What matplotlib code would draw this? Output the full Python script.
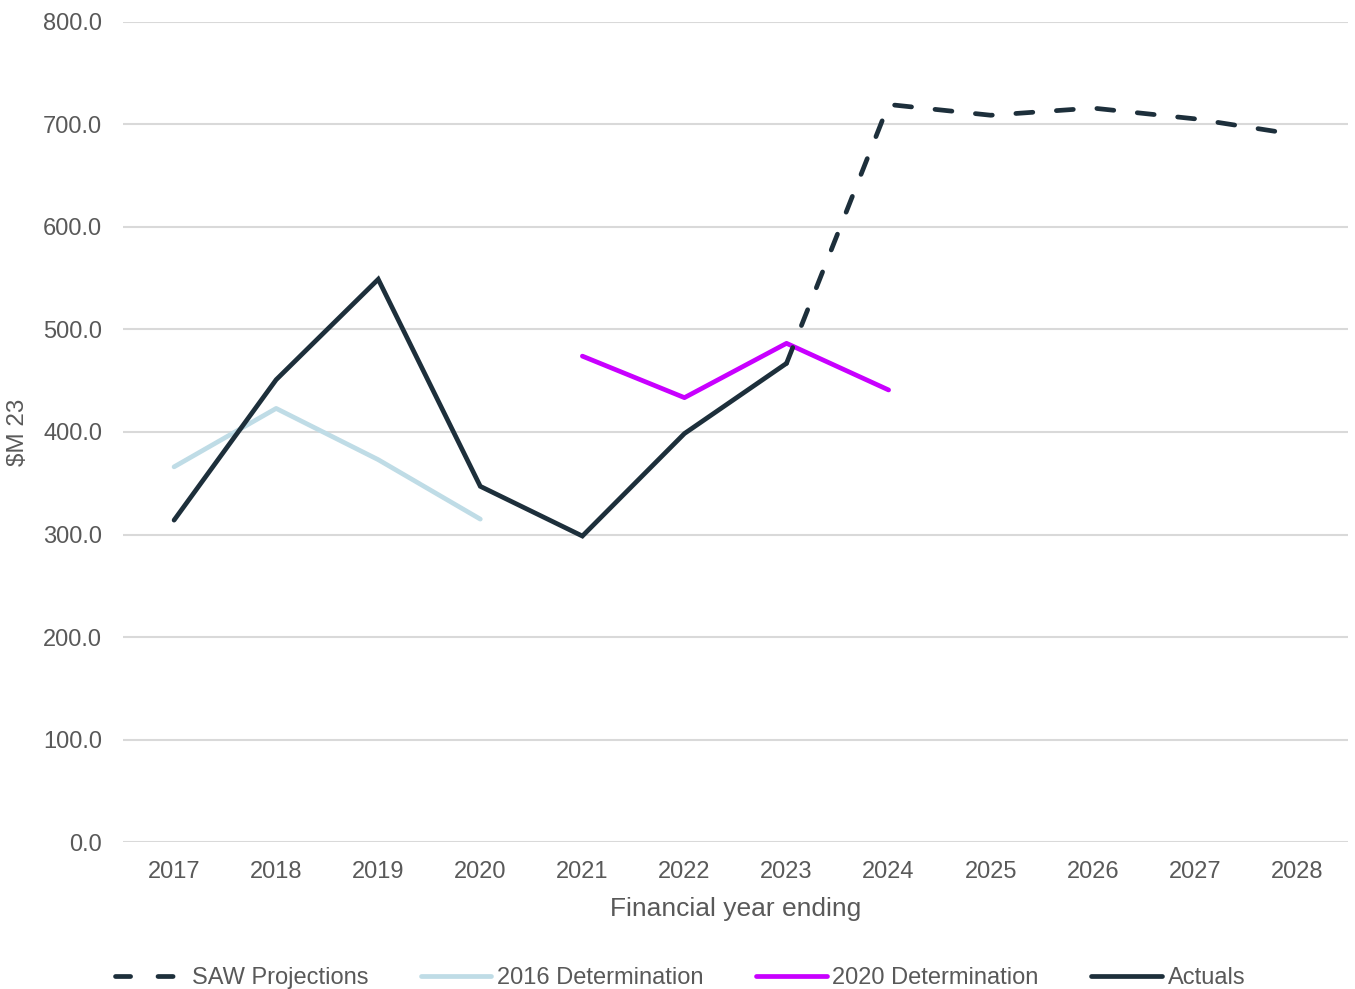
import matplotlib
matplotlib.use("Agg")
import matplotlib.pyplot as plt
from matplotlib.lines import Line2D

plt.rcParams['font.family'] = ['Liberation Sans', 'DejaVu Sans']

years = ["2017", "2018", "2019", "2020", "2021", "2022", "2023",
         "2024", "2025", "2026", "2027", "2028"]

# Series values ($M 23); None where a series has no value
actuals = [314, 451, 549, 347, 298.5, 398.5, 467, None, None, None, None, None]
saw_projections = [None, None, None, None, None, None, 467, 719.5, 709, 716, 705.5, 690]
det_2016 = [366, 423, 373, 315, None, None, None, None, None, None, None, None]
det_2020 = [None, None, None, None, 474, 433.5, 486.5, 441, None, None, None, None]

y_ticks = [0, 100, 200, 300, 400, 500, 600, 700, 800]

C_DARK = "#1D2F3B"
C_LIGHT = "#BFDCE6"
C_MAGENTA = "#C800FF"
C_TEXT = "#595959"
C_GRID = "#D9D9D9"


def pts(values):
    xs = [i for i, v in enumerate(values) if v is not None]
    ys = [v for v in values if v is not None]
    return xs, ys


fig = plt.figure(figsize=(13.55, 9.89), dpi=100)
ax = fig.add_axes([0.0908, 0.1486, 0.9040, 0.8292])

lw = 3.4
ax.plot(*pts(det_2016), color=C_LIGHT, lw=lw, solid_capstyle='round',
        solid_joinstyle='round', zorder=3)
ax.plot(*pts(det_2020), color=C_MAGENTA, lw=lw, solid_capstyle='round',
        solid_joinstyle='round', zorder=4)
ax.plot(*pts(saw_projections), color=C_DARK, lw=lw, dashes=(3.6, 5.0),
        dash_capstyle='round', zorder=5)
ax.plot(*pts(actuals), color=C_DARK, lw=lw, solid_capstyle='round',
        solid_joinstyle='miter', zorder=6)

ax.set_xlim(-0.5, len(years) - 0.5)
ax.set_ylim(0, 800)
ax.set_xticks(range(len(years)))
ax.set_xticklabels(years)
ax.set_yticks(y_ticks)
ax.set_yticklabels([f"{v:.1f}" for v in y_ticks])
ax.tick_params(axis='both', length=0, labelsize=17, labelcolor=C_TEXT)
ax.tick_params(axis='x', pad=14)
ax.tick_params(axis='y', pad=15)
ax.grid(axis='y', color=C_GRID, lw=1.5)
ax.set_axisbelow(True)
for s in ax.spines.values():
    s.set_visible(False)

ax.set_xlabel("Financial year ending", fontsize=19, color=C_TEXT, labelpad=10)
ax.set_ylabel("$M 23", fontsize=17.5, color=C_TEXT, labelpad=10)

handles = [
    Line2D([], [], color=C_DARK, lw=lw, dashes=(3.2, 5.8), dash_capstyle='round'),
    Line2D([], [], color=C_LIGHT, lw=lw, solid_capstyle='round'),
    Line2D([], [], color=C_MAGENTA, lw=lw, solid_capstyle='round'),
    Line2D([], [], color=C_DARK, lw=lw, solid_capstyle='round'),
]
labels = ["SAW Projections", "2016 Determination", "2020 Determination", "Actuals"]
leg = fig.legend(handles, labels, loc='center', bbox_to_anchor=(0.502, 0.011),
                 ncol=4, frameon=False, fontsize=17, handlelength=3.0,
                 handletextpad=0.25, columnspacing=2.2, labelcolor=C_TEXT)

fig.savefig("out.png", dpi=100, facecolor="white")
